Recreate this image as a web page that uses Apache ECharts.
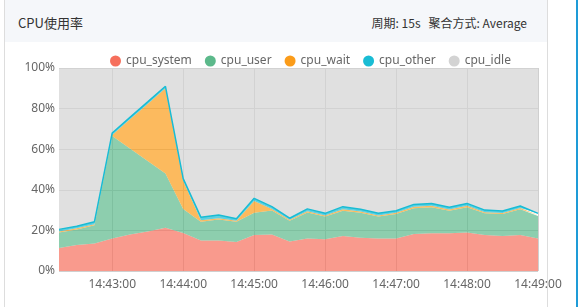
<!DOCTYPE html>
<html><head><meta charset="utf-8">
<script src="https://cdn.jsdelivr.net/npm/echarts@6/dist/echarts.min.js"></script>
<style>
html,body{margin:0;padding:0;background:#fff;width:579px;height:307px;overflow:hidden;font-family:"Noto Sans CJK SC","Noto Sans",sans-serif;}
#card{position:absolute;left:4px;top:-1px;width:542px;height:310px;border-left:1px solid #ddd;border-right:1px solid #ddd;}
#head{position:absolute;left:5px;top:0;width:542px;height:42px;background:#f5f7fa;}
#title{position:absolute;left:18px;top:13px;font-size:13px;color:#333;}
#meta{position:absolute;right:52px;top:14px;font-size:12px;color:#333;}
#blue{position:absolute;left:576px;top:0;width:2px;height:307px;background:#1e9bd7;}
#chart{position:absolute;left:0;top:0;width:579px;height:307px;}
</style></head>
<body>
<div id="card"></div>
<div id="head"></div>
<div id="title">CPU使用率</div>
<div id="meta">周期: 15s&nbsp;&nbsp;&nbsp;聚合方式: Average</div>
<div id="blue"></div>
<div id="chart"></div>
<script>
const categories = ["14:42:15","14:42:30","14:42:45","14:43:00","14:43:15","14:43:30","14:43:45","14:44:00","14:44:15","14:44:30","14:44:45","14:45:00","14:45:15","14:45:30","14:45:45","14:46:00","14:46:15","14:46:30","14:46:45","14:47:00","14:47:15","14:47:30","14:47:45","14:48:00","14:48:15","14:48:30","14:48:45","14:49:00"];
const cpuSystem = [11.3,12.8,13.6,16.0,18.0,19.5,21.3,18.7,15.0,15.0,14.3,17.7,18.0,14.5,16.0,15.6,17.2,16.4,16.0,16.0,18.2,18.6,18.6,19.0,17.7,17.2,17.7,16.0];
const cpuUser = [7.7,7.7,8.9,50.5,42.3,34.7,26.7,11.8,9.3,10.4,10.0,11.0,11.8,10.3,12.8,11.2,12.5,12.3,10.8,12.1,12.7,12.8,11.1,12.4,10.7,10.9,12.7,11.1];
const cpuWait = [0.5,0.5,0.5,0.5,14.4,28.1,42.0,14.0,0.7,0.6,0.4,5.8,0.7,0.5,0.6,0.5,0.7,0.6,0.6,0.6,0.7,0.7,0.6,0.7,0.6,0.5,0.6,0.5];
const cpuOther = [1.0,1.0,1.3,1.0,1.0,1.0,1.0,1.0,1.5,1.6,1.0,1.3,1.2,0.7,1.2,1.1,1.3,1.1,1.0,1.0,1.2,1.2,1.1,1.2,1.0,1.0,1.0,0.8];
const cpuIdle = [79.5,78.0,75.7,32.0,24.3,16.7,9.0,54.5,73.5,72.4,74.3,64.2,68.3,74.0,69.4,71.6,68.3,69.6,71.6,70.3,67.2,66.7,68.6,66.7,70.0,70.4,68.0,71.6];
const seriesNames = ["cpu_system","cpu_user","cpu_wait","cpu_other","cpu_idle"];
const seriesColors = ["#f66f5c","#5cb98b","#fb9c1a","#19bcd4","#d3d3d3"];
const seriesData = [cpuSystem,cpuUser,cpuWait,cpuOther,cpuIdle];

const chart = echarts.init(document.getElementById('chart'), null, {renderer:'canvas'});
const tickFn = (i) => i % 4 === 3;
chart.setOption({
  animation:false,
  color: seriesColors,
  legend:{
    top:50, left:105, itemGap:13, itemWidth:11, itemHeight:11, icon:'circle',
    textStyle:{fontSize:12,color:'#666',fontFamily:'"Noto Sans", sans-serif'},
    data: seriesNames
  },
  grid:{left:59,right:41,top:68,bottom:36,containLabel:false},
  xAxis:{
    type:'category', data:categories, boundaryGap:false,
    axisLine:{show:false}, axisTick:{show:false},
    axisLabel:{interval:tickFn, color:'#666', fontSize:12, margin:8, fontFamily:'"Noto Sans", sans-serif'},
    splitLine:{show:true, interval:tickFn, lineStyle:{color:'#cfcfcf',width:1}}
  },
  yAxis:{
    type:'value', min:0, max:100, interval:20,
    axisLine:{show:false}, axisTick:{show:false},
    axisLabel:{formatter:'{value}%', color:'#666', fontSize:12, margin:4, fontFamily:'"Noto Sans", sans-serif'},
    splitLine:{lineStyle:{color:'#cfcfcf',width:1}}
  },
  series: seriesNames.map((n,k)=>({
    name:n, type:'line', stack:'cpu', data:seriesData[k],
    symbol:'none', smooth:false,
    lineStyle:{width: k===3 ? 1.5 : 0, color: seriesColors[k]},
    areaStyle:{opacity:0.7, color: seriesColors[k]}
  }))
});
</script>
</body></html>
